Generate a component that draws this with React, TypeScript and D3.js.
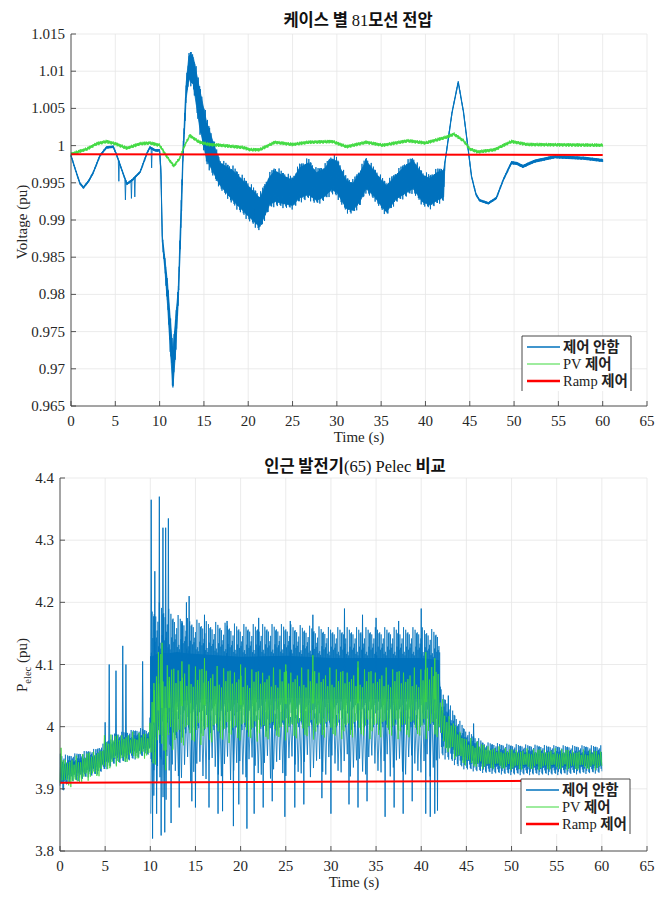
import React from "react";
import * as d3 from "d3";

type Band = [number, number, number][];
type Pt = [number, number];

const X_TICKS = [0, 5, 10, 15, 20, 25, 30, 35, 40, 45, 50, 55, 60, 65];
const V_TICKS = [0.965, 0.97, 0.975, 0.98, 0.985, 0.99, 0.995, 1, 1.005, 1.01, 1.015];
const P_TICKS = [3.8, 3.9, 4, 4.1, 4.2, 4.3, 4.4];

const LEGEND = ["제어 안함", "PV 제어", "Ramp 제어"];

// ---- Top chart: bus 81 voltage, envelope [t, low, high] ----
const V_BLUE: Band = [
  [0, 0.9985, 0.9988], [0.5, 0.9966, 0.9969], [1.0, 0.9948, 0.9951], [1.4, 0.9942, 0.9945],
  [2.0, 0.9951, 0.9954], [2.5, 0.9962, 0.9965], [3.27, 0.9985, 0.9988], [4.0, 0.9996, 0.9999],
  [4.77, 0.9997, 1.0], [5.15, 0.9986, 0.9989], [5.7, 0.9967, 0.997], [6.3, 0.9947, 0.995],
  [6.9, 0.9952, 0.9955], [7.8, 0.9963, 0.9966], [8.6, 0.9989, 0.9992], [8.9, 0.9996, 0.9999],
  [9.5, 0.9992, 0.9995], [10.0, 0.9992, 0.9995], [10.15, 0.996, 0.997], [10.3, 0.987, 0.988],
  [10.6, 0.983, 0.985], [10.9, 0.978, 0.982], [11.2, 0.972, 0.9775], [11.5, 0.9667, 0.973],
  [11.8, 0.9715, 0.9775], [12.1, 0.9785, 0.981], [12.4, 0.988, 0.9915], [12.65, 0.998, 1.0],
  [13.0, 1.006, 1.0088], [13.3, 1.0085, 1.0125], [13.5, 1.008, 1.0129], [13.8, 1.0076, 1.0125],
  [14.5, 1.0018, 1.0085], [15.3, 0.9973, 1.004], [16.8, 0.9942, 0.9982], [18.3, 0.9919, 0.9973],
  [19.8, 0.9901, 0.9955], [21.3, 0.9884, 0.9936], [22.4, 0.9914, 0.9964], [23.0, 0.9918, 0.9973],
  [23.9, 0.9916, 0.9966], [25.0, 0.9914, 0.9959], [25.8, 0.9923, 0.9977], [26.8, 0.9927, 0.9984],
  [27.7, 0.992, 0.997], [28.6, 0.9925, 0.9975], [29.4, 0.9934, 0.9989], [30.0, 0.993, 0.9986],
  [31.1, 0.9909, 0.9959], [31.8, 0.9907, 0.9955], [32.6, 0.9918, 0.997], [33.3, 0.9936, 0.9986],
  [34.3, 0.9925, 0.997], [35.2, 0.991, 0.9957], [35.6, 0.9905, 0.9952], [36.7, 0.9923, 0.9966],
  [37.8, 0.993, 0.998], [38.6, 0.9936, 0.9986], [39.7, 0.9918, 0.9966], [40.5, 0.9914, 0.9962],
  [41.3, 0.992, 0.997], [42.05, 0.9925, 0.9973], [42.2, 0.9976, 0.9979], [43.0, 1.0043, 1.0046],
  [43.7, 1.0084, 1.0087], [44.3, 1.0043, 1.0046], [45.2, 0.9957, 0.996], [45.7, 0.9933, 0.9936],
  [46.1, 0.9925, 0.9928], [47.1, 0.9921, 0.9924], [48.0, 0.9928, 0.9931], [48.8, 0.9953, 0.9956],
  [49.7, 0.9975, 0.9979], [50.3, 0.9974, 0.9978], [51.0, 0.997, 0.9974], [52.3, 0.9977, 0.9981],
  [54.6, 0.9983, 0.9987], [57.9, 0.9981, 0.9985], [60, 0.9978, 0.9982],
];
const V_BLUE_SPIKES: Pt[] = [
  [5.4, 0.9952], [6.14, 0.9927], [6.82, 0.9929], [7.2, 0.9931], [9.1, 0.997],
];
const V_GREEN: Band = [
  [0, 0.9986, 0.9991], [1.8, 0.9993, 0.9998], [2.9, 1.0, 1.0005], [4.0, 1.0003, 1.0008],
  [5.0, 1.0, 1.0005], [6.3, 0.9994, 0.9999], [7.8, 1.0, 1.0005], [8.9, 1.0001, 1.0006],
  [10.0, 0.9998, 1.0003], [10.8, 0.9983, 0.9988], [11.6, 0.997, 0.9975], [12.3, 0.9981, 0.9986],
  [12.8, 0.9997, 1.0002], [13.4, 1.0011, 1.0016], [14.5, 1.0002, 1.0007], [15.6, 0.9999, 1.0004],
  [16.8, 0.9998, 1.0003], [19.4, 0.9995, 1.0], [20.2, 0.9992, 0.9997], [21.3, 0.9992, 0.9997],
  [23.0, 1.0002, 1.0007], [25.0, 0.9999, 1.0004], [26.8, 1.0002, 1.0007], [29.5, 1.0003, 1.0008],
  [31.1, 0.9996, 1.0001], [33.3, 1.0002, 1.0007], [35.2, 0.9998, 1.0003], [38.0, 1.0004, 1.0009],
  [40.0, 1.0001, 1.0006], [42.4, 1.0009, 1.0014], [43.2, 1.0013, 1.0018], [44.3, 1.0004, 1.0009],
  [45.0, 0.9993, 0.9998], [45.9, 0.9989, 0.9994], [47.8, 0.9992, 0.9997], [49.7, 1.0003, 1.0008],
  [51.5, 0.9999, 1.0004], [60, 0.9998, 1.0003],
];
const V_RED: Pt[] = [[0, 0.99885], [60, 0.99875]];

// ---- Bottom chart: generator 65 Pelec, envelope [t, low, high] ----
const P_BLUE: Band = [
  [0, 3.905, 3.96], [0.3, 3.894, 3.955], [1, 3.91, 3.955], [2, 3.912, 3.958], [3, 3.918, 3.962],
  [4, 3.922, 3.965], [5, 3.93, 3.975], [6, 3.938, 3.99], [7, 3.942, 3.992], [8, 3.946, 3.995],
  [9, 3.95, 3.998], [9.95, 3.955, 3.995], [10.05, 3.93, 4.19], [11, 3.93, 4.2], [12, 3.95, 4.19],
  [13, 3.98, 4.18], [14, 3.985, 4.175], [16, 3.99, 4.17], [20, 3.99, 4.165], [25, 3.995, 4.165],
  [30, 3.995, 4.16], [35, 3.995, 4.16], [40, 3.995, 4.16], [42.0, 3.995, 4.155],
  [42.2, 3.95, 4.06], [43, 3.945, 4.04], [44, 3.935, 4.015], [45, 3.93, 3.995], [47, 3.925, 3.975],
  [50, 3.922, 3.972], [55, 3.922, 3.97], [60, 3.925, 3.97],
];
const P_BLUE_FRINGE: Band = [
  [10.05, 3.86, 4.1], [12, 3.88, 4.08], [13, 3.91, 4.06], [20, 3.915, 4.05], [30, 3.92, 4.05],
  [42.0, 3.92, 4.05],
];
const P_BLUE_SPIKES: Pt[] = [
  [5.0, 4.007], [5.45, 4.1], [6.2, 4.09], [6.95, 4.13], [7.3, 4.1], [9.15, 4.105],
  [10.1, 4.365], [10.25, 3.82], [10.5, 4.25], [10.7, 3.86], [11.0, 4.37], [11.2, 3.825],
  [11.4, 4.32], [11.6, 3.83], [11.7, 4.32], [12.0, 4.335], [12.3, 3.845], [13.2, 3.87],
  [13.5, 4.17], [14.0, 4.2], [14.3, 4.21], [14.6, 3.88], [15.0, 3.87], [16.0, 4.18],
  [16.5, 3.87], [17.5, 3.86], [18.0, 3.864], [18.5, 4.17], [19.2, 3.84], [19.8, 3.875],
  [20.7, 3.836], [21.5, 3.86], [22.0, 4.175], [22.5, 3.87], [23.5, 3.88], [24.9, 3.855],
  [25.5, 4.17], [26.0, 3.87], [27.0, 3.875], [28.0, 4.18], [29.0, 3.885], [30.0, 3.86],
  [31.5, 4.19], [32.0, 3.875], [33.0, 3.87], [33.5, 4.18], [34.0, 3.88], [35.0, 4.175],
  [36.0, 3.855], [37.0, 3.87], [37.5, 4.17], [38.0, 3.86], [39.0, 3.88], [40.0, 4.19],
  [40.5, 3.86], [41.0, 3.855], [41.5, 3.86], [41.8, 3.865], [43.0, 4.05], [45.8, 4.005],
];
const P_GREEN: Band = [
  [0, 3.91, 3.975], [0.5, 3.905, 3.95], [1.5, 3.9, 3.952], [2.5, 3.91, 3.957], [3.5, 3.915, 3.962],
  [4.5, 3.92, 3.966], [5.0, 3.925, 3.99], [6.0, 3.935, 3.988], [7.0, 3.94, 3.99], [8.0, 3.945, 3.992],
  [9.9, 3.95, 3.99], [10.1, 3.93, 4.06], [11.0, 3.94, 4.12], [12.0, 3.96, 4.1], [13.0, 3.965, 4.1],
  [15.0, 3.97, 4.1], [20.0, 3.975, 4.095], [25.0, 3.978, 4.095], [30.0, 3.98, 4.095], [35.0, 3.98, 4.095],
  [40.0, 3.98, 4.095], [41.8, 3.98, 4.11], [42.2, 3.97, 4.05], [43.0, 3.955, 4.02], [44.0, 3.945, 4.0],
  [45.0, 3.935, 3.985], [47.0, 3.932, 3.972], [50.0, 3.93, 3.965], [55.0, 3.93, 3.965], [60, 3.93, 3.962],
];
const P_GREEN_SPIKES: Pt[] = [
  [10.4, 4.07], [10.9, 4.12], [11.3, 4.135], [11.7, 3.93], [12.1, 4.08], [13.5, 4.105],
  [16.0, 4.11], [20.0, 4.1], [25.0, 4.1], [28.0, 4.115], [33.0, 4.105], [40.5, 4.12], [41.5, 4.11],
];
const P_RED: Pt[] = [[0, 3.9097], [60, 3.9134]];

// fixed stroke texture used to render the dense oscillation inside each envelope
const TEXTURE = [1, 0.62, 0.86, 0.48, 0.95, 0.56, 0.78, 0.45, 0.9, 0.68, 0.52, 0.88, 0.6];

const BLUE = "#0072BD";
const GREEN = "#3fd93f";
const RED = "#ff0000";
const SERIF = "Liberation Serif";
const KR = "Noto Sans CJK KR";

type Scale = d3.ScaleLinear<number, number>;

function bandPath(band: Band, x: Scale, y: Scale, dt: number): string {
  const ts = band.map((d) => d[0]);
  const lo = d3.scaleLinear().domain(ts).range(band.map((d) => d[1]));
  const hi = d3.scaleLinear().domain(ts).range(band.map((d) => d[2]));
  const t0 = ts[0];
  const t1 = ts[ts.length - 1];
  const n = Math.round((t1 - t0) / dt);
  const m = TEXTURE.length;
  const pts: [number, number][] = [];
  for (let i = 0; i <= n; i++) {
    const t = t0 + i * dt;
    const a = lo(t);
    const b = hi(t);
    const mid = (a + b) / 2;
    const k = i % 2 ? TEXTURE[(i * 5 + 3) % m] : TEXTURE[(i * 3) % m];
    const v = i % 2 ? mid + (b - mid) * k : mid - (mid - a) * k;
    pts.push([x(t), y(v)]);
  }
  return d3.line()(pts) || "";
}

// solid inner part of an envelope (fraction f of its half-width around the middle)
function corePath(band: Band, x: Scale, y: Scale, f: number): string {
  return (
    d3
      .area<[number, number, number]>()
      .x((d) => x(d[0]))
      .y0((d) => y((d[1] + d[2]) / 2 - ((d[2] - d[1]) / 2) * f))
      .y1((d) => y((d[1] + d[2]) / 2 + ((d[2] - d[1]) / 2) * f))(band) || ""
  );
}

function spikePath(band: Band, spikes: Pt[], x: Scale, y: Scale): string {
  const ts = band.map((d) => d[0]);
  const mid = d3.scaleLinear().domain(ts).range(band.map((d) => (d[1] + d[2]) / 2));
  return spikes
    .map(([t, v]) => `M${x(t - 0.06)},${y(mid(t))}L${x(t)},${y(v)}L${x(t + 0.06)},${y(mid(t))}`)
    .join("");
}

function Grid(props: { x: Scale; y: Scale; yTicks: number[] }) {
  const { x, y, yTicks } = props;
  const [x0, x1] = x.range();
  const [y0, y1] = y.range();
  return (
    <g>
      {X_TICKS.map((t) => (
        <line key={"gx" + t} x1={x(t)} x2={x(t)} y1={y0} y2={y1} stroke="#e6e6e6" strokeWidth={0.8} />
      ))}
      {yTicks.map((v) => (
        <line key={"gy" + v} x1={x0} x2={x1} y1={y(v)} y2={y(v)} stroke="#e6e6e6" strokeWidth={0.8} />
      ))}
    </g>
  );
}

function AxisLines(props: { x: Scale; y: Scale; yTicks: number[]; fmt: (v: number) => string }) {
  const { x, y, yTicks, fmt } = props;
  const [x0] = x.range();
  const [y0] = y.range();
  return (
    <g fontFamily={SERIF} fontSize={15} fill="#262626">
      <line x1={x0} x2={x(65)} y1={y0} y2={y0} stroke="#444" strokeWidth={0.9} />
      <line x1={x0} x2={x0} y1={y0} y2={y(yTicks[yTicks.length - 1])} stroke="#444" strokeWidth={0.9} />
      {X_TICKS.map((t) => (
        <g key={"tx" + t}>
          <line x1={x(t)} x2={x(t)} y1={y0} y2={y0 - 5} stroke="#444" strokeWidth={0.9} />
          <text x={x(t)} y={y0 + 20} textAnchor="middle">{t}</text>
        </g>
      ))}
      {yTicks.map((v) => (
        <g key={"ty" + v}>
          <line x1={x0} x2={x0 + 5} y1={y(v)} y2={y(v)} stroke="#444" strokeWidth={0.9} />
          <text x={x0 - 6} y={y(v) + 5} textAnchor="end">{fmt(v)}</text>
        </g>
      ))}
    </g>
  );
}

function Legend(props: { x: number; y: number }) {
  const { x, y } = props;
  const colors = [BLUE, GREEN, RED];
  const widths = [1.4, 1.2, 2.6];
  const w = 109;
  const h = 55;
  return (
    <g>
      <rect x={x} y={y} width={w} height={h} fill="#fff" />
      <path d={`M${x},${y + h}V${y}H${x + w}V${y + h}`} fill="none" stroke="#333" strokeWidth={0.9} />
      {LEGEND.map((label, i) => {
        const cy = y + 11 + i * 17;
        const sp = label.indexOf(" ");
        const first = label.slice(0, sp);
        const rest = label.slice(sp + 1);
        const isLatin = /^[A-Za-z]/.test(first);
        return (
          <g key={label}>
            <line x1={x + 5} x2={x + 38} y1={cy} y2={cy} stroke={colors[i]} strokeWidth={widths[i]} />
            {isLatin ? (
              <text x={x + 41} y={cy + 5} fontSize={14.5} fill="#222">
                <tspan fontFamily={SERIF}>{first + " "}</tspan>
                <tspan fontFamily={KR} fontWeight="bold">{rest}</tspan>
              </text>
            ) : (
              <text x={x + 41} y={cy + 5} fontSize={14.5} fill="#222" fontFamily={KR} fontWeight="bold">
                {label}
              </text>
            )}
          </g>
        );
      })}
    </g>
  );
}

export default function App() {
  const tx = d3.scaleLinear().domain([0, 65]).range([71, 647]);
  const ty = d3.scaleLinear().domain([0.965, 1.015]).range([406, 34]);
  const bx = d3.scaleLinear().domain([0, 65]).range([60, 647]);
  const by = d3.scaleLinear().domain([3.8, 4.4]).range([851, 478]);
  const fmtV = (v: number) => String(+v.toFixed(3));
  const fmtP = (v: number) => String(+v.toFixed(1));
  const line = (x: Scale, y: Scale, pts: Pt[]) =>
    d3.line<Pt>().x((d) => x(d[0])).y((d) => y(d[1]))(pts) || "";

  return (
    <svg
      width={669}
      height={900}
      style={{ position: "absolute", left: 0, top: 0, background: "#fff" }}
      xmlns="http://www.w3.org/2000/svg"
    >
      <rect width={669} height={900} fill="#fff" />
      {/* ---------- top chart ---------- */}
      <Grid x={tx} y={ty} yTicks={V_TICKS} />
      <path d={corePath(V_BLUE, tx, ty, 0.75)} fill={BLUE} stroke={BLUE} strokeWidth={0.8} />
      <path d={bandPath(V_BLUE, tx, ty, 0.04)} fill="none" stroke={BLUE} strokeWidth={0.9} />
      <path d={spikePath(V_BLUE, V_BLUE_SPIKES, tx, ty)} fill="none" stroke={BLUE} strokeWidth={0.9} />
      <path d={bandPath(V_GREEN, tx, ty, 0.04)} fill="none" stroke={GREEN} strokeWidth={0.8} />
      <path d={line(tx, ty, V_RED)} fill="none" stroke={RED} strokeWidth={2} />
      <AxisLines x={tx} y={ty} yTicks={V_TICKS} fmt={fmtV} />
      <text x={358} y={26} textAnchor="middle" fontSize={16.5} fill="#111">
        <tspan fontFamily={KR} fontWeight="bold">케이스 별 </tspan>
        <tspan fontFamily={SERIF}>81</tspan>
        <tspan fontFamily={KR} fontWeight="bold">모선 전압</tspan>
      </text>
      <text x={359} y={442} textAnchor="middle" fontFamily={SERIF} fontSize={15} fill="#262626">Time (s)</text>
      <text transform="translate(27,222) rotate(-90)" textAnchor="middle" fontFamily={SERIF} fontSize={15} fill="#262626">
        Voltage (pu)
      </text>
      <Legend x={522} y={336} />

      {/* ---------- bottom chart ---------- */}
      <Grid x={bx} y={by} yTicks={P_TICKS} />
      <path d={bandPath(P_BLUE_FRINGE, bx, by, 0.17)} fill="none" stroke={BLUE} strokeWidth={0.8} />
      <path d={corePath(P_BLUE, bx, by, 0.4)} fill={BLUE} stroke="none" />
      <path d={bandPath(P_BLUE, bx, by, 0.04)} fill="none" stroke={BLUE} strokeWidth={0.7} />
      <path d={spikePath(P_BLUE, P_BLUE_SPIKES, bx, by)} fill="none" stroke={BLUE} strokeWidth={0.9} />
      <path d={bandPath(P_GREEN, bx, by, 0.12)} fill="none" stroke={GREEN} strokeWidth={0.8} />
      <path d={spikePath(P_GREEN, P_GREEN_SPIKES, bx, by)} fill="none" stroke={GREEN} strokeWidth={0.9} />
      <path d={line(bx, by, P_RED)} fill="none" stroke={RED} strokeWidth={2} />
      <AxisLines x={bx} y={by} yTicks={P_TICKS} fmt={fmtP} />
      <text x={355} y={472} textAnchor="middle" fontSize={16.5} fill="#111">
        <tspan fontFamily={KR} fontWeight="bold">인근 발전기</tspan>
        <tspan fontFamily={SERIF}>(65) Pelec </tspan>
        <tspan fontFamily={KR} fontWeight="bold">비교</tspan>
      </text>
      <text x={354} y={887} textAnchor="middle" fontFamily={SERIF} fontSize={15} fill="#262626">Time (s)</text>
      <text transform="translate(27,665) rotate(-90)" textAnchor="middle" fontFamily={SERIF} fontSize={15} fill="#262626">
        <tspan>P</tspan>
        <tspan fontSize={10.5} dy={4}>elec</tspan>
        <tspan dy={-4}> (pu)</tspan>
      </text>
      <Legend x={521} y={779} />
    </svg>
  );
}
